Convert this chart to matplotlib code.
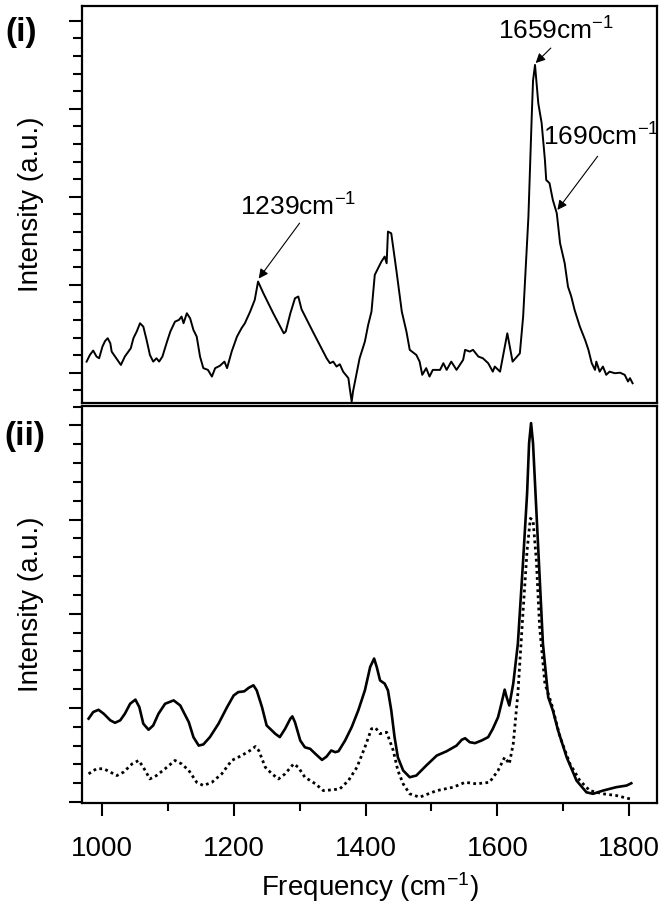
import matplotlib.pyplot as plt
from matplotlib.ticker import MultipleLocator, FixedLocator, NullLocator

plt.rcParams['font.family'] = ['Liberation Sans', 'DejaVu Sans']
plt.rcParams['mathtext.fontset'] = 'custom'
plt.rcParams['mathtext.rm'] = 'Liberation Sans'
plt.rcParams['mathtext.it'] = 'Liberation Sans:italic'
plt.rcParams['mathtext.bf'] = 'Liberation Sans:bold'

# panel (i): spectrum
freq_i = [977, 982, 987, 992, 996, 1001, 1005, 1009, 1013, 1015, 1023, 1029, 1035, 1044,
          1048, 1053, 1058, 1063, 1068, 1073, 1078, 1083, 1087, 1092, 1099, 1104, 1111, 1117,
          1121, 1124, 1129, 1134, 1139, 1144, 1149, 1154, 1161, 1167, 1172, 1179, 1186, 1190,
          1197, 1205, 1212, 1217, 1225, 1232, 1237, 1245, 1260, 1276, 1279, 1286, 1293, 1298,
          1303, 1320, 1341, 1346, 1351, 1356, 1361, 1366, 1374, 1376, 1379, 1381, 1386, 1391,
          1399, 1404, 1409, 1414, 1419, 1424, 1429, 1432, 1434, 1439, 1447, 1455, 1462, 1467,
          1477, 1482, 1486, 1492, 1497, 1502, 1513, 1518, 1523, 1530, 1538, 1548, 1551, 1558,
          1563, 1571, 1578, 1586, 1593, 1596, 1604, 1615, 1623, 1634, 1639, 1647, 1652, 1654,
          1657, 1662, 1667, 1672, 1674, 1679, 1684, 1690, 1695, 1702, 1707, 1712, 1717, 1725,
          1733, 1738, 1743, 1748, 1750, 1755, 1760, 1765, 1770, 1778, 1786, 1793, 1798, 1801,
          1805]
int_i = [2.63, 3.01, 3.26, 2.92, 2.82, 3.48, 3.8, 3.96, 3.67, 3.2, 2.76, 2.44, 2.92, 3.39,
         3.96, 4.34, 4.81, 4.62, 3.86, 3.01, 2.63, 2.82, 2.63, 2.92, 3.77, 4.34, 4.9, 5.0,
         5.19, 4.81, 5.38, 5.09, 4.43, 4.05, 2.92, 2.26, 2.16, 1.78, 2.26, 2.39, 2.63, 2.26,
         3.2, 4.05, 4.53, 4.81, 5.47, 6.14, 7.18, 6.52, 5.38, 4.24, 4.34, 5.38, 6.23, 6.33,
         5.6, 4.34, 2.82, 2.54, 2.63, 2.35, 2.48, 2.06, 1.69, 1.12, 0.36, 0.93, 1.88, 2.82,
         3.77, 4.72, 5.47, 7.56, 7.94, 8.31, 8.6, 8.22, 10.02, 9.92, 7.75, 5.47, 4.34, 3.3,
         3.01, 2.63, 1.88, 2.26, 1.78, 2.16, 2.16, 2.54, 2.16, 2.63, 2.16, 2.73, 3.3, 3.2,
         3.3, 2.92, 2.82, 2.54, 2.06, 2.35, 2.06, 4.24, 2.63, 3.1, 5.19, 10.87, 16.55, 18.6,
         19.49, 17.3, 16.2, 14.1, 12.95, 12.77, 11.82, 11.06, 9.36, 8.22, 6.89, 6.33, 5.57, 4.62,
         3.86, 3.3, 2.54, 2.16, 2.63, 2.06, 2.35, 1.88, 2.06, 1.97, 2.0, 1.88, 1.5, 1.69,
         1.4]

# panel (ii): solid spectrum
freq_ii = [980, 987, 995, 1003, 1013, 1020, 1028, 1035, 1043, 1051, 1057, 1063, 1071, 1078,
           1086, 1096, 1109, 1119, 1132, 1139, 1147, 1154, 1164, 1177, 1190, 1200, 1207, 1216,
           1223, 1230, 1235, 1243, 1250, 1258, 1263, 1270, 1278, 1286, 1289, 1293, 1301, 1308,
           1316, 1324, 1334, 1341, 1348, 1354, 1359, 1369, 1379, 1389, 1399, 1407, 1413, 1417,
           1422, 1429, 1434, 1439, 1444, 1449, 1457, 1467, 1477, 1492, 1508, 1523, 1538, 1546,
           1551, 1558, 1566, 1576, 1586, 1593, 1601, 1606, 1611, 1614, 1618, 1624, 1631, 1639,
           1645, 1648, 1651, 1654, 1659, 1664, 1669, 1677, 1684, 1692, 1705, 1720, 1735, 1745,
           1760, 1780, 1796, 1803]
int_ii_solid = [4.43, 4.78, 4.9, 4.69, 4.34, 4.21, 4.34, 4.69, 5.22, 5.44, 5.04, 4.16, 3.84, 4.07,
                4.69, 5.22, 5.4, 5.13, 4.24, 3.45, 3.0, 3.06, 3.45, 4.16, 5.04, 5.66, 5.84, 5.88,
                6.07, 6.2, 5.93, 5.04, 4.07, 3.8, 3.63, 3.45, 3.89, 4.43, 4.55, 4.24, 3.27, 2.91,
                2.83, 2.56, 2.24, 2.42, 2.74, 2.65, 2.7, 3.27, 3.98, 4.87, 5.93, 7.17, 7.62, 7.17,
                6.46, 6.29, 5.93, 4.87, 3.45, 2.38, 1.68, 1.32, 1.41, 1.94, 2.47, 2.7, 3.0, 3.31,
                3.39, 3.18, 3.13, 3.27, 3.45, 3.89, 4.51, 5.22, 5.97, 5.57, 5.13, 6.29, 8.41, 12.85,
                16.39, 19.05, 20.12, 19.05, 15.5, 11.96, 8.41, 5.57, 4.87, 3.8, 2.38, 1.14, 0.52, 0.44,
                0.61, 0.79, 0.88, 1.0]

# panel (ii): dotted spectrum
freq_dot = [980, 992, 1003, 1013, 1023, 1033, 1046, 1056, 1063, 1073, 1083, 1096, 1111, 1121,
            1132, 1144, 1154, 1167, 1182, 1197, 1212, 1225, 1233, 1238, 1248, 1258, 1268, 1278,
            1291, 1298, 1308, 1324, 1336, 1349, 1361, 1374, 1387, 1399, 1409, 1415, 1422, 1432,
            1442, 1449, 1457, 1467, 1482, 1508, 1533, 1551, 1568, 1588, 1601, 1611, 1618, 1624,
            1631, 1639, 1645, 1650, 1654, 1659, 1664, 1672, 1682, 1695, 1710, 1725, 1740, 1760,
            1780, 1801]
int_dot = [1.5, 1.77, 1.77, 1.59, 1.41, 1.59, 2.03, 2.21, 1.85, 1.23, 1.41, 1.77, 2.21, 2.03,
           1.68, 1.05, 0.88, 1.05, 1.5, 2.21, 2.47, 2.74, 2.95, 2.74, 1.85, 1.5, 1.23, 1.5,
           2.03, 1.85, 1.32, 0.97, 0.61, 0.65, 0.7, 1.14, 1.85, 2.91, 3.89, 3.95, 3.63, 3.71,
           2.74, 1.68, 0.97, 0.44, 0.26, 0.61, 0.79, 1.05, 0.97, 1.05, 1.68, 2.38, 2.03, 3.1,
           5.76, 10.19, 13.38, 15.06, 14.97, 12.85, 9.3, 6.29, 5.22, 3.45, 2.03, 1.14, 0.61, 0.44,
           0.35, 0.17]

fig = plt.figure(figsize=(6.66, 9.08), dpi=100)
ax1 = fig.add_axes([0.1231, 0.5562, 0.8634, 0.4372])
ax2 = fig.add_axes([0.1231, 0.1156, 0.8634, 0.4373])

for ax in (ax1, ax2):
    for sp in ax.spines.values():
        sp.set_linewidth(1.6)
    ax.set_xlim(970, 1842)
    ax.yaxis.set_minor_locator(MultipleLocator(1))
    ax.tick_params(axis='y', which='major', direction='out', length=9.5, width=1.5, labelleft=False)
    ax.tick_params(axis='y', which='minor', direction='out', length=6.5, width=1.5)
    ax.set_ylabel('Intensity (a.u.)', fontsize=20)
    ax.yaxis.set_label_coords(-0.066, 0.5)

# top panel
ax1.plot(freq_i, int_i, color='black', lw=1.4)
ax1.set_ylim(0.28, 22.84)
ax1.yaxis.set_major_locator(FixedLocator([2, 7, 12, 17, 22]))
ax1.xaxis.set_major_locator(NullLocator())
ax1.tick_params(axis='x', which='both', bottom=False, labelbottom=False)

arrow = dict(arrowstyle='-|>', color='black', lw=0.8, mutation_scale=14, shrinkA=0, shrinkB=0)
ax1.annotate('', xy=(1658, 19.6), xytext=(1681, 20.45), arrowprops=arrow)
ax1.annotate('', xy=(1691, 11.25), xytext=(1752, 14.3), arrowprops=arrow)
ax1.annotate('', xy=(1238, 7.35), xytext=(1300, 10.5), arrowprops=arrow)
ax1.text(1688, 21.4, '1659cm$^{-1}$', fontsize=19, ha='center', va='center')
ax1.text(1758, 15.4, '1690cm$^{-1}$', fontsize=19, ha='center', va='center')
ax1.text(1297, 11.4, '1239cm$^{-1}$', fontsize=19, ha='center', va='center')

# bottom panel
ax2.plot(freq_ii, int_ii_solid, color='black', lw=1.9)
ax2.plot(freq_dot, int_dot, color='black', lw=2.0, linestyle=(0, (1, 1.2)))
ax2.set_ylim(-0.05, 21.03)
ax2.yaxis.set_major_locator(MultipleLocator(5))
ax2.xaxis.set_major_locator(MultipleLocator(200))
ax2.xaxis.set_minor_locator(MultipleLocator(100))
ax2.tick_params(axis='x', which='major', direction='out', length=9.5, width=1.5, labelsize=20, pad=14)
ax2.tick_params(axis='x', which='minor', direction='out', length=5.5, width=1.5)
ax2.set_xlabel('Frequency (cm$^{-1}$)', fontsize=20, labelpad=6)

fig.text(0.031, 0.964, '(i)', fontsize=24, fontweight='bold', ha='center', va='center')
fig.text(0.037, 0.519, '(ii)', fontsize=24, fontweight='bold', ha='center', va='center')

fig.savefig('out.png', dpi=100)
